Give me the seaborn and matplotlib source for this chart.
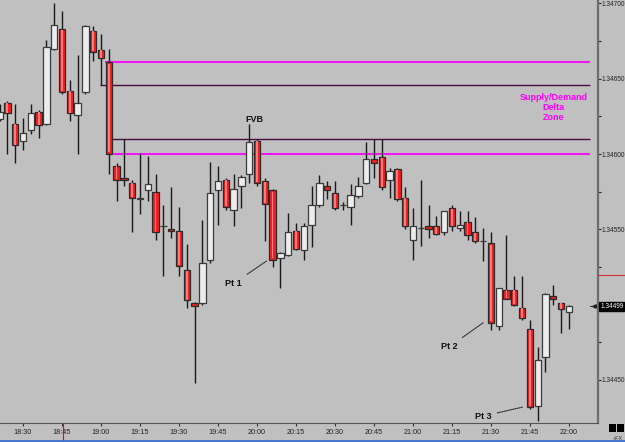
import matplotlib
matplotlib.use("Agg")
import numpy as np
import pandas as pd
import matplotlib.pyplot as plt
import matplotlib.transforms as mtransforms
from matplotlib.patches import Rectangle
from matplotlib.lines import Line2D
from matplotlib import font_manager
import seaborn as sns

# ---------------- data ----------------
bar_times = ["18:21", "18:24", "18:27", "18:30", "18:33", "18:36", "18:39", "18:42", "18:45", "18:48",
             "18:51", "18:54", "18:57", "19:00", "19:03", "19:06", "19:09", "19:12", "19:15", "19:18",
             "19:21", "19:24", "19:27", "19:30", "19:33", "19:36", "19:39", "19:42", "19:45", "19:48",
             "19:51", "19:54", "19:57", "20:00", "20:03", "20:06", "20:09", "20:12", "20:15", "20:18",
             "20:21", "20:24", "20:27", "20:30", "20:33", "20:36", "20:39", "20:42", "20:45", "20:48",
             "20:51", "20:54", "20:57", "21:00", "21:03", "21:06", "21:09", "21:12", "21:15", "21:18",
             "21:21", "21:24", "21:27", "21:30", "21:33", "21:36", "21:39", "21:42", "21:45", "21:48",
             "21:51", "21:54", "21:57", "22:00"]

opens = [1.34623, 1.34634, 1.34620, 1.34609, 1.34616, 1.34628, 1.34620, 1.34670, 1.34683, 1.34642,
         1.34626, 1.34641, 1.34682, 1.34669, 1.34661, 1.34592, 1.34584, 1.34581, 1.34570, 1.34576,
         1.34575, 1.34552, 1.34550, 1.34549, 1.34523, 1.34501, 1.34501, 1.34530, 1.34576, 1.34583,
         1.34563, 1.34579, 1.34587, 1.34609, 1.34582, 1.34576, 1.34531, 1.34533, 1.34549, 1.34536,
         1.34553, 1.34566, 1.34579, 1.34574, 1.34566, 1.34565, 1.34572, 1.34581, 1.34597, 1.34598,
         1.34583, 1.34590, 1.34571, 1.34543, 1.34551, 1.34552, 1.34552, 1.34548, 1.34564, 1.34551,
         1.34555, 1.34548, 1.34542, 1.34541, 1.34486, 1.34510, 1.34510, 1.34498, 1.34484, 1.34433,
         1.34465, 1.34506, 1.34501, 1.34495]
highs = [1.34633, 1.34635, 1.34633, 1.34624, 1.34633, 1.34629, 1.34676, 1.34700, 1.34695, 1.34649,
         1.34666, 1.34686, 1.34685, 1.34680, 1.34670, 1.34594, 1.34610, 1.34583, 1.34601, 1.34599,
         1.34587, 1.34566, 1.34578, 1.34565, 1.34540, 1.34502, 1.34556, 1.34595, 1.34592, 1.34584,
         1.34587, 1.34586, 1.34620, 1.34610, 1.34584, 1.34577, 1.34535, 1.34561, 1.34554, 1.34554,
         1.34579, 1.34586, 1.34582, 1.34582, 1.34568, 1.34580, 1.34585, 1.34608, 1.34610, 1.34610,
         1.34591, 1.34591, 1.34578, 1.34564, 1.34583, 1.34566, 1.34559, 1.34562, 1.34566, 1.34562,
         1.34562, 1.34558, 1.34551, 1.34548, 1.34511, 1.34546, 1.34519, 1.34519, 1.34490, 1.34472,
         1.34508, 1.34513, 1.34501, 1.34500]
lows = [1.34622, 1.34600, 1.34594, 1.34603, 1.34613, 1.34611, 1.34619, 1.34669, 1.34640, 1.34622,
        1.34600, 1.34640, 1.34662, 1.34646, 1.34587, 1.34569, 1.34579, 1.34548, 1.34560, 1.34569,
        1.34543, 1.34519, 1.34544, 1.34519, 1.34498, 1.34448, 1.34500, 1.34528, 1.34553, 1.34563,
        1.34552, 1.34564, 1.34581, 1.34579, 1.34542, 1.34525, 1.34511, 1.34532, 1.34536, 1.34530,
        1.34538, 1.34565, 1.34570, 1.34563, 1.34563, 1.34553, 1.34571, 1.34580, 1.34584, 1.34576,
        1.34571, 1.34569, 1.34550, 1.34530, 1.34539, 1.34544, 1.34546, 1.34546, 1.34549, 1.34549,
        1.34543, 1.34541, 1.34529, 1.34483, 1.34483, 1.34504, 1.34499, 1.34490, 1.34431, 1.34423,
        1.34455, 1.34500, 1.34481, 1.34484]
closes = [1.34628, 1.34627, 1.34606, 1.34614, 1.34627, 1.34619, 1.34671, 1.34686, 1.34641, 1.34627,
          1.34634, 1.34685, 1.34668, 1.34664, 1.34600, 1.34583, 1.34583, 1.34571, 1.34571, 1.34580,
          1.34548, 1.34552, 1.34549, 1.34526, 1.34503, 1.34499, 1.34528, 1.34574, 1.34582, 1.34565,
          1.34577, 1.34585, 1.34608, 1.34581, 1.34567, 1.34530, 1.34534, 1.34548, 1.34537, 1.34552,
          1.34566, 1.34581, 1.34576, 1.34564, 1.34566, 1.34573, 1.34579, 1.34597, 1.34594, 1.34578,
          1.34589, 1.34570, 1.34552, 1.34552, 1.34551, 1.34550, 1.34547, 1.34562, 1.34552, 1.34553,
          1.34546, 1.34542, 1.34542, 1.34488, 1.34511, 1.34504, 1.34500, 1.34491, 1.34432, 1.34463,
          1.34507, 1.34504, 1.34497, 1.34499]

tick_labels = ["18:30", "18:45", "19:00", "19:15", "19:30", "19:45", "20:00", "20:15",
               "20:30", "20:45", "21:00", "21:15", "21:30", "21:45", "22:00"]
price_ticks = [1.34450, 1.34500, 1.34550, 1.34600, 1.34650, 1.34700]

zone_levels = [1.34661, 1.34646, 1.34610, 1.34600]
zone_colors = ["#ff00ff", "#4a0a44", "#4a0a44", "#ff00ff"]
zone_start_min = [31.5, 29.5, 34.0, 34.0]   # minutes after 18:30
zone_end_min = 218.0
last_price = 1.34499
bid_line = 1.34520

annotations = [  # text, text(min, price), point(min, price)
    ("Pt 1", (81.0, 1.34514), (93.7, 1.34529)),
    ("Pt 2", (164.0, 1.34472), (177.0, 1.34488)),
    ("Pt 3", (177.0, 1.34426), (192.2, 1.34432)),
]

# ---------------- frame ----------------
def to_min(s):
    h, m = s.split(":")
    return int(h) * 60 + int(m) - (18 * 60 + 30)

df = pd.DataFrame({"time": bar_times, "open": opens, "high": highs,
                   "low": lows, "close": closes})
df["t"] = df["time"].map(to_min)
df["bull"] = df["close"] >= df["open"]

sns.set_theme(style="white")
plt.rcParams["font.family"] = ["Liberation Sans", "DejaVu Sans"]

installed = {f.name for f in font_manager.fontManager.ttflist}
if "Liberation Sans Narrow" in installed:
    axis_font, axis_size = ["Liberation Sans Narrow", "DejaVu Sans"], 5.6
else:
    axis_font, axis_size = ["Liberation Sans", "DejaVu Sans"], 4.7

BG = "#c0c0c0"
W, H = 625, 442
fig = plt.figure(figsize=(W / 100, H / 100), dpi=100, facecolor=BG)
ax = fig.add_axes([0, 19 / H, 598 / W, 423 / H])
ax.set_facecolor(BG)

ax.set_xlim(-8.85, 221.2)
ax.set_ylim(1.3442145, 1.347023)

# wicks
sns.despine(ax=ax, left=True, top=True, right=False, bottom=False)
ax.vlines(df["t"], df["low"], df["high"], color="#1a1a1a", lw=1.0, zorder=2)

# bodies
bw = 2.45
bear = df[~df["bull"]]
bull = df[df["bull"]]
ax.bar(bull["t"], bull["close"] - bull["open"], bottom=bull["open"], width=bw,
       color="#ececec", edgecolor="#3a3a3a", linewidth=0.9, zorder=3)
ax.bar(bear["t"], bear["close"] - bear["open"], bottom=bear["open"], width=bw,
       color="#f42020", edgecolor="#2a2a2a", linewidth=0.9, zorder=3)
# soft highlight in red bodies
big = bear[(bear["open"] - bear["close"]) > 0.00004]
ax.bar(big["t"], (big["close"] - big["open"]) * 0.96, bottom=big["open"] - (big["open"] - big["close"]) * 0.02,
       width=0.7, color="#ff7a7a", linewidth=0, zorder=3.5)

# supply / demand zone lines
for lv, col, st in zip(zone_levels, zone_colors, zone_start_min):
    ax.hlines(lv, st, zone_end_min, color=col, lw=1.0 if col != "#ff00ff" else 1.3, zorder=1.5)

ax.text(204.2, 1.34631, "Supply/Demand\nDelta\nZone", ha="center", va="center",
        color="#ff00ff", fontsize=6.5, fontweight="bold", linespacing=1.15)
ax.text(89.2, 1.34623, "FVB", ha="center", va="center", color="#111111",
        fontsize=6.5, fontweight="bold")
for txt, xyt, xy in annotations:
    ax.annotate(txt, xy=xy, xytext=xyt, ha="center", va="center", fontsize=6.5,
                fontweight="bold", color="#111111", annotation_clip=False,
                arrowprops=dict(arrowstyle="-", linestyle=(0, (1, 1)), color="#222222",
                                lw=0.8, shrinkA=2, shrinkB=0))

# ---------------- axes ----------------
ax.set_xticks([to_min(s) for s in tick_labels])
ax.set_xticklabels(tick_labels, fontfamily=axis_font)
ax.yaxis.tick_right()
ax.set_yticks(price_ticks)
ax.set_yticklabels(["" if abs(p - 1.345) < 1e-9 else f"{p:.5f}" for p in price_ticks],
                   fontfamily=axis_font)
ax.set_yticks([p + 0.00025 for p in price_ticks[:-1]], minor=True)
ax.tick_params(axis="y", which="major", length=2, width=0.8, color="#222222",
               labelsize=axis_size, pad=0.5, labelcolor="#222222", right=True)
ax.tick_params(axis="y", which="minor", length=2, width=0.8, color="#222222", right=True)
ax.tick_params(axis="x", length=2, width=0.8, color="#333333", labelsize=axis_size + 0.5,
               pad=2, labelcolor="#222222", bottom=True)
ax.spines["right"].set_color("#6e6e6e")
ax.spines["right"].set_linewidth(1.6)
ax.spines["bottom"].set_color("#555555")
ax.spines["bottom"].set_linewidth(0.8)
ax.grid(False)

trans_r = mtransforms.blended_transform_factory(ax.transAxes, ax.transData)
ax.plot([1.0, W / 598], [bid_line, bid_line], transform=trans_r, color="#d03030",
        lw=0.8, clip_on=False, zorder=5)
ax.text(1.0035, last_price, f"{last_price:.5f}", transform=trans_r, color="white",
        fontsize=axis_size, fontfamily=axis_font, ha="left", va="center", clip_on=False,
        zorder=10, bbox=dict(facecolor="black", edgecolor="black", pad=0.6))
# small last-price pointer just left of the price axis
ax.plot([0.987, 0.996], [last_price, last_price], transform=trans_r, color="#222222",
        lw=0.7, zorder=5)
ax.plot([0.994], [last_price], transform=trans_r, marker="<", markersize=2.5,
        color="#222222", zorder=5)

trans_b = mtransforms.blended_transform_factory(ax.transData, ax.transAxes)
ax.plot([15.3, 15.3], [-19 / 423, 0], transform=trans_b, color="#ff0000", lw=0.8,
        clip_on=False, zorder=5)

# window decorations
fig.add_artist(Line2D([0, 1], [1.2 / H, 1.2 / H], transform=fig.transFigure,
                      color="#3f72cc", lw=2))
for x0 in (609, 617):
    fig.add_artist(Rectangle((x0 / W, 10 / H), 7 / W, 8 / H, transform=fig.transFigure,
                             facecolor="black", edgecolor="none"))
fig.text(618 / W, 4 / H, "+FX", fontsize=4, color="#333333", ha="center", va="center")

fig.savefig("out.png", dpi=100, facecolor=BG)
